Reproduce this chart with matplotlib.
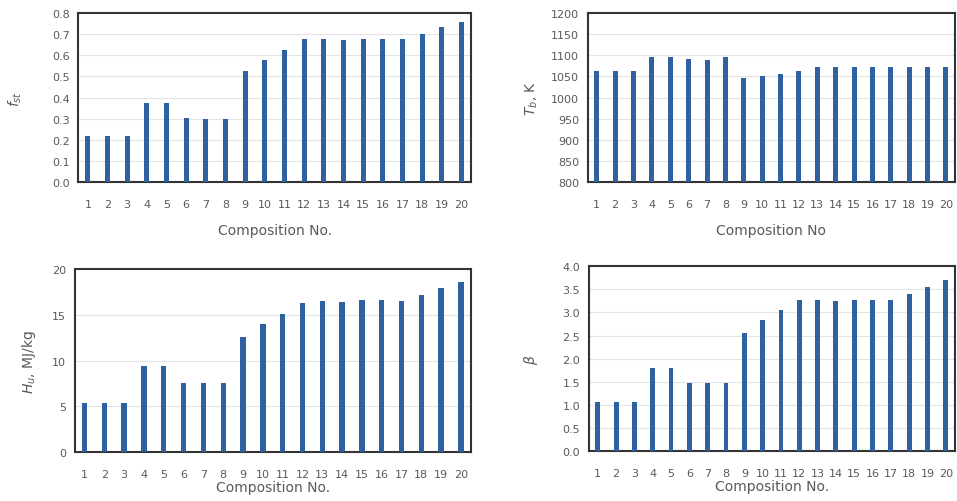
import numpy as np
import matplotlib.pyplot as plt

comp = list(range(1, 21))
f_st = [0.22, 0.22, 0.22, 0.375, 0.375, 0.305, 0.30, 0.30, 0.525, 0.58,
        0.625, 0.675, 0.675, 0.672, 0.675, 0.675, 0.675, 0.70, 0.735, 0.76]
t_b = [1063, 1063, 1063, 1096, 1096, 1091, 1088, 1095, 1047, 1051,
       1055, 1062, 1073, 1072, 1073, 1073, 1073, 1073, 1073, 1073]
h_u = [5.4, 5.4, 5.4, 9.4, 9.4, 7.6, 7.6, 7.5, 12.6, 14.0,
       15.1, 16.35, 16.5, 16.45, 16.6, 16.6, 16.5, 17.2, 18.0, 18.6]
beta = [1.06, 1.06, 1.06, 1.80, 1.80, 1.48, 1.48, 1.48, 2.56, 2.83,
        3.05, 3.28, 3.26, 3.25, 3.28, 3.28, 3.28, 3.40, 3.55, 3.70]

bar_color = "#2f609f"
txt = "#595959"

fig = plt.figure(figsize=(9.57, 5.02), dpi=100)

panels = [
    # values, rect, ylim, yticks, fmt, ylabel, xlabel, ylabel pad, xlabel pad
    (f_st, [0.0815, 0.635, 0.411, 0.337], (0, 0.8), np.arange(0, 0.81, 0.1), "{:.1f}", "$f_{st}$", "Composition No.", 20, 10),
    (t_b, [0.614, 0.635, 0.384, 0.337], (800, 1200), np.arange(800, 1201, 50), "{:.0f}", "$T_b$, K", "Composition No", 8, 10),
    (h_u, [0.078, 0.0976, 0.414, 0.364], (0, 20), np.arange(0, 21, 5), "{:.0f}", "$H_u$, MJ/kg", "Composition No.", 10, 1),
    (beta, [0.615, 0.0996, 0.383, 0.368], (0, 4), np.arange(0, 4.01, 0.5), "{:.1f}", r"$\beta$", "Composition No.", 16, 1),
]

for vals, rect, ylim, yt, fmt, ylab, xlab, ypad, xpad in panels:
    ax = fig.add_axes(rect)
    ax.bar(comp, vals, width=0.27, color=bar_color, zorder=3)
    ax.set_xlim(0.5, 20.5)
    ax.set_ylim(*ylim)
    ax.set_yticks(yt)
    ax.set_yticklabels([fmt.format(v) for v in yt])
    ax.set_xticks(comp)
    ax.set_xticklabels([str(c) for c in comp])
    ax.grid(axis="y", color="#e3e3e3", linewidth=0.8, zorder=0)
    for s in ax.spines.values():
        s.set_color("#333333")
        s.set_linewidth(1.5)
    ax.tick_params(axis="both", length=0, labelsize=8, colors=txt)
    ax.tick_params(axis="x", pad=12)
    ax.tick_params(axis="y", pad=6)
    ax.set_ylabel(ylab, fontsize=10, color=txt, labelpad=ypad)
    ax.set_xlabel(xlab, fontsize=10, color=txt, labelpad=xpad)

fig.savefig("out.png", dpi=100)
